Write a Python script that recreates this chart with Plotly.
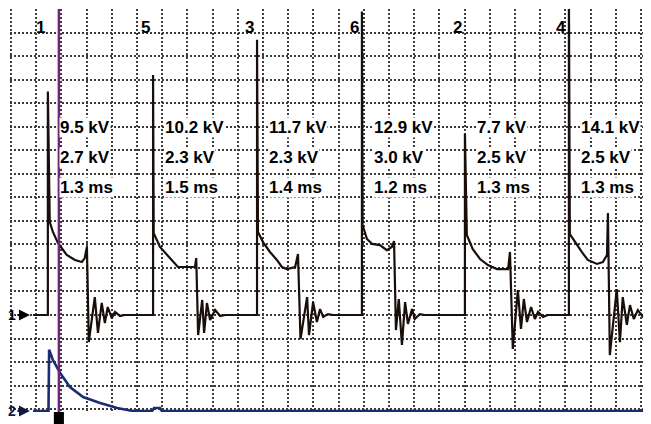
import plotly.graph_objects as go

# ---------------- data ----------------
# firing order / cylinder labels
cylinders = ["1", "5", "3", "6", "2", "4"]
firing_kv = [9.5, 10.2, 11.7, 12.9, 7.7, 14.1]      # peak (firing) voltage, kV
burn_kv = [2.7, 2.3, 2.3, 3.0, 2.5, 2.5]            # spark (burn) voltage, kV
burn_ms = [1.3, 1.5, 1.4, 1.2, 1.3, 1.3]            # burn time, ms
spike_t = [1.17, 4.51, 7.81, 11.14, 14.41, 17.71]   # time of each firing spike, ms
trace_start_t = 0.70                                # start of recorded trace, ms
cursor_t = 1.52                                     # cursor position, ms

# secondary waveform after each spike: time after spike (ms) and voltage (kV)
cyl1_dt = [0.06, 0.16, 0.32, 0.60, 0.86, 1.08, 1.17, 1.24, 1.30, 1.49, 1.59, 1.71, 1.81, 1.90, 2.03, 2.13, 2.29, 2.44]
cyl1_kv = [3.95, 3.53, 3.06, 2.55, 2.34, 2.25, 2.42, 2.89, -1.15, 0.76, -0.76, 0.51, -0.34, 0.34, -0.13, 0.13, -0.04, 0.0]
cyl5_dt = [0.02, 0.22, 0.54, 0.79, 1.08, 1.33, 1.37, 1.43, 1.56, 1.62, 1.71, 1.81, 1.97, 2.13, 2.29]
cyl5_kv = [3.48, 2.89, 2.42, 2.04, 2.04, 2.04, 2.42, -0.85, 0.64, -0.76, 0.51, -0.21, 0.21, -0.04, 0.0]
cyl3_dt = [0.03, 0.19, 0.41, 0.63, 0.79, 0.95, 1.21, 1.30, 1.38, 1.59, 1.65, 1.78, 1.90, 2.00, 2.10, 2.25, 2.41]
cyl3_kv = [3.53, 3.10, 2.68, 2.34, 2.04, 1.95, 2.04, 2.59, -1.02, 0.76, -0.85, 0.55, -0.30, 0.25, -0.08, 0.04, 0.0]
cyl6_dt = [0.02, 0.16, 0.33, 0.57, 0.79, 0.95, 1.02, 1.08, 1.17, 1.27, 1.37, 1.46, 1.59, 1.68, 1.84, 2.00]
cyl6_kv = [3.82, 3.23, 3.02, 2.97, 2.76, 2.89, 3.14, -0.64, 0.68, -1.27, 0.55, -0.38, 0.25, -0.17, 0.04, 0.0]
cyl2_dt = [0.06, 0.25, 0.48, 0.73, 1.02, 1.37, 1.43, 1.52, 1.68, 1.78, 1.87, 1.97, 2.10, 2.22, 2.32, 2.48, 2.63]
cyl2_kv = [3.40, 2.80, 2.38, 2.12, 1.95, 1.95, 2.68, -1.44, 1.06, -0.59, 0.68, -0.30, 0.34, -0.17, 0.13, -0.08, 0.0]
cyl4_dt = [0.03, 0.19, 0.41, 0.60, 0.89, 1.08, 1.21, 1.24, 1.30, 1.52, 1.62, 1.71, 1.84, 1.94, 2.06, 2.19, 2.35, 2.75]
cyl4_kv = [3.44, 3.10, 2.68, 2.34, 2.17, 2.25, 2.55, 4.33, -1.70, 1.10, -1.15, 0.76, -0.42, 0.42, -0.17, 0.21, -0.08, 0.0]

# channel 2 (primary current), ms / A
ch2_t = [0.70, 1.19, 1.21, 1.33, 1.56, 1.87, 2.29, 2.83, 3.37, 3.87, 4.48, 4.54, 4.73, 4.79, 20.5]
ch2_a = [0.0, 0.0, 5.2, 4.33, 3.23, 2.04, 1.19, 0.68, 0.25, 0.0, 0.0, 0.25, 0.25, 0.0, 0.0]

# ---------------- assemble channel 1 ----------------
waves_dt = [cyl1_dt, cyl5_dt, cyl3_dt, cyl6_dt, cyl2_dt, cyl4_dt]
waves_kv = [cyl1_kv, cyl5_kv, cyl3_kv, cyl6_kv, cyl2_kv, cyl4_kv]
ch1_t = [trace_start_t]
ch1_kv = [0.0]
for T, pk, dts, kvs in zip(spike_t, firing_kv, waves_dt, waves_kv):
    ch1_t += [T, T]
    ch1_kv += [0.0, pk]
    ch1_t += [T + d for d in dts]
    ch1_kv += kvs

FONT = "Liberation Sans, Arial, Helvetica, sans-serif"
GRID = "#3c3c3c"

fig = go.Figure()
fig.add_trace(go.Scatter(x=ch2_t, y=ch2_a, mode="lines", yaxis="y2",
                         line=dict(color="#1b2d72", width=2.6), hoverinfo="skip"))
fig.add_trace(go.Scatter(x=ch1_t, y=ch1_kv, mode="lines",
                         line=dict(color="#1a0e0a", width=2.2), hoverinfo="skip"))

# cursor line and its marker below the screen
fig.add_shape(type="line", xref="x", yref="paper", x0=cursor_t, x1=cursor_t, y0=0, y1=1,
              line=dict(color="#74237f", width=2.5), layer="above")
fig.add_shape(type="rect", xref="x", yref="paper", x0=cursor_t - 0.16, x1=cursor_t + 0.16,
              y0=-0.032, y1=0.0, fillcolor="black", line=dict(width=0), layer="above")

ann = []
for c, T, fk, bk, bm in zip(cylinders, spike_t, firing_kv, burn_kv, burn_ms):
    ann.append(dict(x=T - 0.03, y=12.2, text=f"<b>{c}</b>", xanchor="right", yanchor="middle",
                    showarrow=False, font=dict(family=FONT, size=17, color="black")))
    for yy, txt in [(7.95, f"{fk:.1f} kV"), (6.69, f"{bk:.1f} kV"), (5.44, f"{bm:.1f} ms")]:
        ann.append(dict(x=T + 0.35, y=yy, text=f"<b>{txt}</b>", xanchor="left", yanchor="middle",
                        showarrow=False, bgcolor="white", borderpad=0,
                        font=dict(family=FONT, size=17, color="black")))
# channel reference arrows
ann.append(dict(x=0.60, y=0.0, xref="x", yref="y", text="<b>1</b>", showarrow=True,
                ax=-18, ay=0, arrowhead=2, arrowsize=1, arrowwidth=2.2, arrowcolor="black",
                standoff=0, font=dict(family=FONT, size=14, color="black")))
ann.append(dict(x=0.60, y=0.0, xref="x", yref="y2", text="<b>2</b>", showarrow=True,
                ax=-18, ay=0, arrowhead=2, arrowsize=1, arrowwidth=2.2, arrowcolor="#101840",
                standoff=0, font=dict(family=FONT, size=14, color="#101840")))

axis_common = dict(showgrid=True, gridcolor=GRID, gridwidth=1.5, griddash="2px,2px",
                   zeroline=False, showticklabels=False, ticks="", showline=False, fixedrange=True)
# the page body adds an 8px offset, so the figure is 643x416
fig.update_layout(
    width=643, height=416,
    margin=dict(l=2, r=0, t=1, b=12, pad=0),
    paper_bgcolor="white", plot_bgcolor="white", showlegend=False,
    xaxis=dict(range=[-0.032, 20.317], tick0=0, dtick=0.8, **axis_common),
    yaxis=dict(range=[-4.122, 13.005], tick0=0, dtick=1, **axis_common),
    yaxis2=dict(range=[-0.085, 34.17], overlaying="y", visible=False, fixedrange=True),
    annotations=ann,
)
fig.write_html("out.html", config={"displayModeBar": False})
